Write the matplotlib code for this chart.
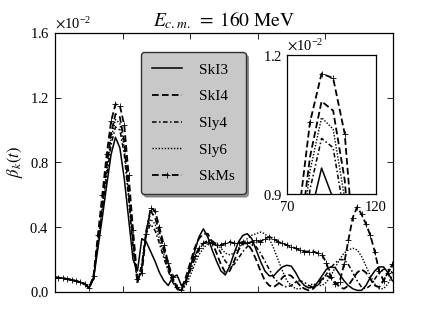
import matplotlib
matplotlib.use("Agg")
import matplotlib.pyplot as plt
from matplotlib.ticker import ScalarFormatter

plt.rcParams['font.family'] = ['Liberation Serif', 'DejaVu Serif']
plt.rcParams['mathtext.fontset'] = 'stix'

# time grid (fm/c)
t = [-1.5, 5, 11.5, 18, 24.5, 31, 37.5, 44, 50.5, 57, 63.5, 70, 76.5, 83, 89.5, 96,
     102.5, 109, 115.5, 122, 128.5, 135, 141.5, 148, 154.5, 161, 167.5, 174, 180.5,
     187, 193.5, 200, 206.5, 213, 219.5, 226, 232.5, 239, 245.5, 252, 258.5, 265,
     271.5, 278, 284.5, 291, 297.5, 304, 310.5, 317, 323.5, 330, 336.5, 343, 349.5,
     356, 362.5, 369, 375.5, 382, 388.5, 395, 401.5, 408, 414.5, 421, 427.5, 434,
     440.5, 447, 453.5, 460, 466.5, 473, 479.5, 486, 492.5, 499, 505.5]

start = [0.090, 0.088, 0.085, 0.080, 0.075, 0.068, 0.060, 0.050, 0.025]

# values in units of 1e-2
ski3 = start + [0.08, 0.27, 0.46, 0.66, 0.85, 0.956, 0.89, 0.70, 0.45, 0.20, 0.13,
                0.33, 0.31, 0.25, 0.19, 0.12, 0.07, 0.04, 0.09, 0.105, 0.04, 0.06,
                0.15, 0.25, 0.34, 0.39, 0.34, 0.26, 0.19, 0.13, 0.105, 0.16, 0.24,
                0.31, 0.35, 0.36, 0.33, 0.26, 0.19, 0.13, 0.10, 0.10, 0.13, 0.155,
                0.165, 0.16, 0.12, 0.07, 0.04, 0.025, 0.03, 0.06, 0.10, 0.14, 0.155,
                0.15, 0.11, 0.07, 0.04, 0.02, 0.01, 0.01, 0.04, 0.09, 0.13, 0.155,
                0.155, 0.12, 0.07, 0.05]

ski4 = start + [0.09, 0.32, 0.55, 0.78, 0.98, 1.10, 1.08, 0.93, 0.63, 0.32, 0.06,
                0.15, 0.38, 0.50, 0.46, 0.37, 0.26, 0.16, 0.08, 0.02, 0.02, 0.09,
                0.18, 0.27, 0.33, 0.36, 0.36, 0.31, 0.24, 0.17, 0.12, 0.13, 0.19,
                0.26, 0.30, 0.30, 0.26, 0.20, 0.13, 0.07, 0.04, 0.03, 0.05, 0.09,
                0.11, 0.10, 0.07, 0.04, 0.02, 0.01, 0.02, 0.05, 0.08, 0.10, 0.09,
                0.06, 0.03, 0.02, 0.04, 0.08, 0.12, 0.14, 0.12, 0.08, 0.04, 0.03,
                0.07, 0.12, 0.16, 0.17]

sly4 = start + [0.09, 0.30, 0.50, 0.71, 0.91, 1.02, 1.00, 0.85, 0.57, 0.28, 0.05,
                0.18, 0.36, 0.42, 0.38, 0.30, 0.21, 0.13, 0.06, 0.02, 0.01, 0.06,
                0.13, 0.20, 0.26, 0.30, 0.32, 0.32, 0.29, 0.24, 0.19, 0.16, 0.17,
                0.21, 0.25, 0.28, 0.29, 0.28, 0.24, 0.19, 0.14, 0.09, 0.06, 0.04,
                0.03, 0.04, 0.06, 0.07, 0.06, 0.04, 0.03, 0.04, 0.07, 0.11, 0.15,
                0.18, 0.20, 0.20, 0.17, 0.12, 0.07, 0.03, 0.02, 0.04, 0.08, 0.12,
                0.14, 0.14, 0.12, 0.11]

sly6 = start + [0.09, 0.31, 0.53, 0.75, 0.95, 1.065, 1.04, 0.89, 0.60, 0.30, 0.06,
                0.17, 0.37, 0.45, 0.42, 0.33, 0.23, 0.14, 0.07, 0.02, 0.01, 0.04,
                0.10, 0.17, 0.23, 0.27, 0.30, 0.31, 0.30, 0.27, 0.24, 0.23, 0.24,
                0.27, 0.30, 0.33, 0.35, 0.36, 0.37, 0.36, 0.33, 0.27, 0.20, 0.13,
                0.07, 0.04, 0.02, 0.02, 0.03, 0.04, 0.05, 0.04, 0.04, 0.06, 0.10,
                0.15, 0.20, 0.24, 0.26, 0.27, 0.26, 0.22, 0.16, 0.10, 0.05, 0.02,
                0.02, 0.05, 0.10, 0.12]

skms = start + [0.10, 0.35, 0.60, 0.85, 1.055, 1.16, 1.15, 1.03, 0.72, 0.38, 0.08,
                0.12, 0.36, 0.52, 0.50, 0.40, 0.29, 0.18, 0.09, 0.03, 0.01, 0.07,
                0.15, 0.22, 0.27, 0.30, 0.31, 0.30, 0.29, 0.29, 0.30, 0.31, 0.30,
                0.30, 0.31, 0.30, 0.31, 0.32, 0.31, 0.33, 0.34, 0.33, 0.31, 0.30,
                0.29, 0.28, 0.27, 0.26, 0.25, 0.25, 0.25, 0.24, 0.23, 0.18, 0.09,
                0.05, 0.06, 0.17, 0.32, 0.46, 0.525, 0.48, 0.42, 0.35, 0.25, 0.13,
                0.07, 0.12, 0.17, 0.18]

labels = ['SkI3', 'SkI4', 'Sly4', 'Sly6', 'SkMs']
series = [ski3, ski4, sly4, sly6, skms]
styles = [dict(ls='-', lw=1.1),
          dict(ls=(0, (3.7, 1.8)), lw=1.3),
          dict(ls=(0, (3.0, 1.6, 1.0, 1.6)), lw=1.1),
          dict(ls=(0, (1.0, 1.2)), lw=1.0),
          dict(ls=(0, (3.7, 1.8)), lw=1.3, marker='+', ms=4, mew=0.6)]

scale = 1e-2
main_xlim = (0, 500)
main_ylim = (0, 0.016)
main_yticks = [0, 0.004, 0.008, 0.012, 0.016]
main_xticks = [100, 200, 300, 400]
ins_xlim = (70, 120)
ins_ylim = (0.009, 0.012)
ins_yticks = [0.009, 0.012]
ins_xticks = [70, 120]

fig = plt.figure(figsize=(4.42, 3.24), dpi=100)
ax = fig.add_axes([0.1244, 0.0988, 0.7647, 0.7994])

for y, lab, st in zip(series, labels, styles):
    ax.plot(t, [v * scale for v in y], color='black', label=lab, **st)

ax.set_xlim(*main_xlim)
ax.set_ylim(*main_ylim)
ax.set_yticks(main_yticks)
ax.set_xticks(main_xticks)
ax.set_xticklabels([])
fmt = ScalarFormatter(useMathText=True)
fmt.set_powerlimits((0, 0))
ax.yaxis.set_major_formatter(fmt)
ax.tick_params(direction='in', top=True, right=True, length=4, width=0.6,
               labelsize=10.5, pad=4)
ax.yaxis.get_offset_text().set_fontsize(10.5)
for s in ax.spines.values():
    s.set_linewidth(0.9)
ax.set_title(r'$E_{c.m.}\;=\;160\ \mathrm{MeV}$', fontsize=14, pad=5)
ax.set_ylabel(r'$\beta_k(t)$', fontsize=12, labelpad=3)

leg = ax.legend(loc='upper left', bbox_to_anchor=(0.232, 0.955), fontsize=11,
                fancybox=True, shadow={'color': '0.35', 'alpha': 0.6},
                framealpha=1, facecolor='#c8c8c8',
                edgecolor='#303030', handlelength=2.0, handletextpad=1.1,
                labelspacing=0.85, borderpad=0.7)

ins = fig.add_axes([0.649, 0.4012, 0.2014, 0.429])
for y, lab, st in zip(series, labels, styles):
    ins.plot(t, [v * scale for v in y], color='black', **st)
ins.set_xlim(*ins_xlim)
ins.set_ylim(*ins_ylim)
ins.set_xticks(ins_xticks)
ins.set_yticks(ins_yticks)
fmt2 = ScalarFormatter(useMathText=True)
fmt2.set_powerlimits((0, 0))
ins.yaxis.set_major_formatter(fmt2)
ins.tick_params(direction='in', length=3, width=0.6, labelsize=10.5, pad=3)
ins.tick_params(axis='x', pad=5)
ins.yaxis.get_offset_text().set_fontsize(10.5)
for s in ins.spines.values():
    s.set_linewidth(0.9)

fig.savefig('out.png', dpi=100)
